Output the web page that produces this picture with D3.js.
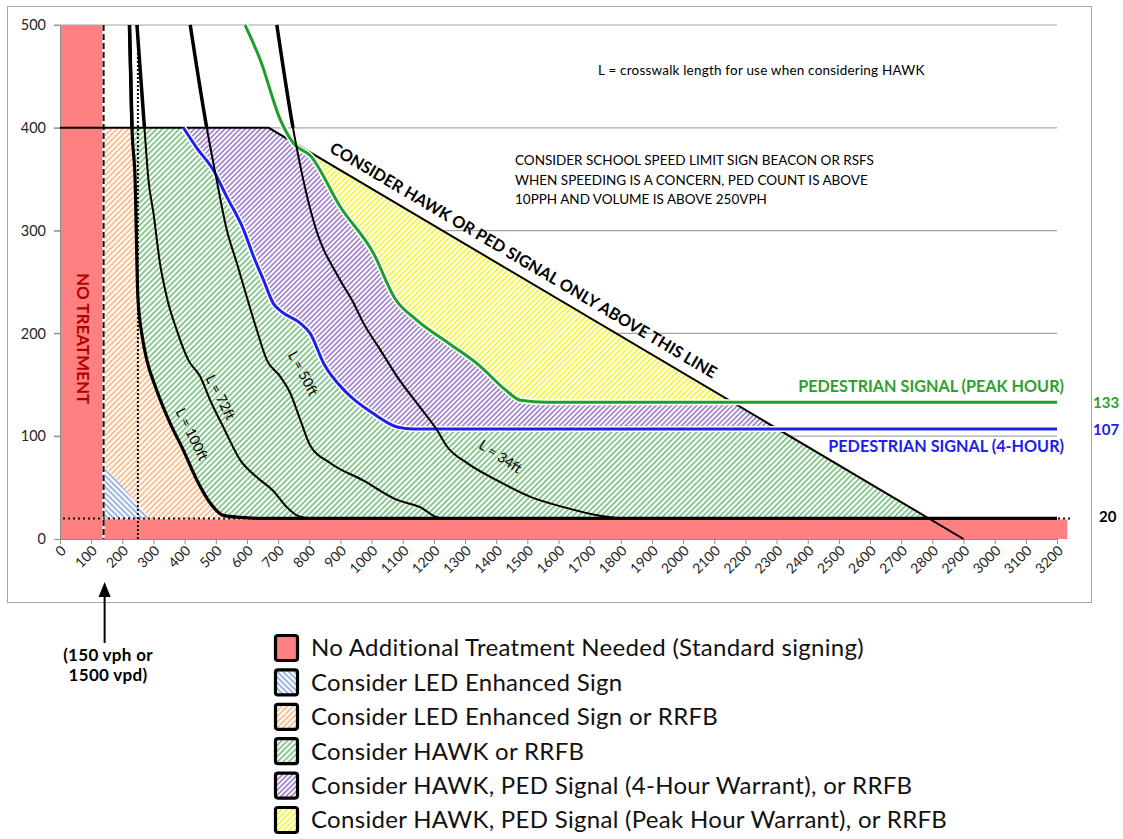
<!DOCTYPE html>
<html>
<head>
<meta charset="utf-8">
<script src="https://cdn.jsdelivr.net/npm/d3@7"></script>
<style>
  body { margin: 0; background: #fff; }
  text { font-family: Lato, "Open Sans", sans-serif; }
</style>
</head>
<body>
<script>
// ---- data (x = vehicles/hour, y = pedestrians/hour) ----
var xTicks = [0,100,200,300,400,500,600,700,800,900,1000,1100,1200,1300,1400,1500,1600,
  1700,1800,1900,2000,2100,2200,2300,2400,2500,2600,2700,2800,2900,3000,3100,3200];
var yTicks = [0,100,200,300,400,500];

var noTreatX = 140;      // dashed line "150 vph or 1500 vpd"
var ledX = 250;          // dotted line
var floorY = 20;         // minimum ped count
var peakValue = 133;
var fourHourValue = 107;
var redBandEnd = 3230;

// crosswalk-length curves
var curveL100 = [[223,500],[231,400],[241,350],[250,235],[265,195],[278,175],[310,145],[353,113],
  [395,87],[440,57],[482,35],[524,23],[580,21],[650,20],[3200,20]];
var curveL72 = [[247,500],[271,400],[284,349],[300,317],[321,268],[343,235],[375,203],[412,174],
  [450,158],[482,135],[524,109],[578,77],[632,60],[684,47],[728,31],[760,23],[803,20]];
var curveL50 = [[418,500],[471,400],[503,349],[535,301],[568,268],[600,235],[632,203],[664,174],
  [707,158],[739,142],[771,116],[803,91],[867,74],[973,57],[1082,38],[1156,31],[1211,21],[1237,20]];
var curveL34 = [[696,500],[749,398],[813,310],[899,252],[938,232],[974,210],[1028,184],[1082,158],
  [1156,128],[1210,106],[1242,90],[1306,74],[1403,57],[1510,41],[1617,31],[1724,23],[1799,20]];

// pedestrian signal warrant curves
var ped4Hour = [[396,400],[440,380],[492,359],[535,333],[589,301],[621,275],[653,252],[685,229],
  [712,221],[771,210],[803,200],[846,171],[921,142],[1006,122],[1082,109],[1135,107],[3200,107]];
var pedPeak = [[594,500],[643,466],[707,408],[749,385],[803,373],[900,323],[1006,278],[1075,234],
  [1145,213],[1250,190],[1349,168],[1430,145],[1478,135],[1563,133],[3200,133]];

// "consider HAWK or PED signal only above this line"
var hawkLimit = [[0,400],[670,400],[2900,0]];
var ledTriangle = [[noTreatX,72],[noTreatX,floorY],[290,floorY]];

var curveLabels = [
  {text: "L = 100ft", x: 398, y: 98, angle: 64},
  {text: "L = 72ft", x: 490, y: 134, angle: 63},
  {text: "L = 50ft", x: 755, y: 157, angle: 62},
  {text: "L = 34ft", x: 1398, y: 73, angle: 33}
];

var legendLabels = [
  "No Additional Treatment Needed (Standard signing)",
  "Consider LED Enhanced Sign",
  "Consider LED Enhanced Sign or RRFB",
  "Consider HAWK or RRFB",
  "Consider HAWK, PED Signal (4-Hour Warrant), or RRFB",
  "Consider HAWK, PED Signal (Peak Hour Warrant), or RRFB"
];

var w = 1123, h = 839;
var red = "#ff8080";
var green = "#1f9e2a";
var blue = "#2020ee";

var svg = d3.select("body").append("svg").attr("width", w).attr("height", h);
var defs = svg.append("defs");

var x = d3.scaleLinear().domain([0, 3200]).range([60, 1057]);
var y = d3.scaleLinear().domain([0, 500]).range([539, 25]);

// hatch patterns
function hatch(id, color, angle, gap, lw) {
  var p = defs.append("pattern")
    .attr("id", id)
    .attr("patternUnits", "userSpaceOnUse")
    .attr("width", gap).attr("height", gap)
    .attr("patternTransform", "rotate(" + angle + ")");
  p.append("rect").attr("width", gap).attr("height", gap).attr("fill", "#fff");
  p.append("line").attr("x1", gap / 2).attr("x2", gap / 2).attr("y1", 0).attr("y2", gap)
    .attr("stroke", color).attr("stroke-width", lw);
}
hatch("h-blue", "#5b86c8", -45, 4, 1.2);
hatch("h-orange", "#f5964a", 45, 4, 1.2);
hatch("h-green", "#3fa34a", 45, 4, 1.2);
hatch("h-purple", "#7a4cb8", 45, 3.6, 1.2);
hatch("h-yellow", "#f2f200", 45, 4, 1.4);

// chart border
svg.append("rect")
  .attr("x", 7.5).attr("y", 6.5).attr("width", 1084).attr("height", 596)
  .attr("fill", "#fff").attr("stroke", "#a6a6a6");

// gridlines
svg.selectAll("line.grid")
  .data(yTicks.filter(function (d) { return d > 0; }))
  .enter().append("line")
  .attr("class", "grid")
  .attr("x1", x(0) - 6).attr("x2", x(3200))
  .attr("y1", function (d) { return y(d); })
  .attr("y2", function (d) { return y(d); })
  .attr("stroke", "#a6a6a6").attr("stroke-width", 1.2);

// clip: below the hawk limit line, right of the no treatment band
var clipPts = [[noTreatX, 0], [noTreatX, 400]].concat(hawkLimit.slice(1));
defs.append("clipPath").attr("id", "ceiling")
  .append("path")
  .attr("d", "M" + clipPts.map(function (d) { return x(d[0]) + "," + y(d[1]); }).join("L") + "Z");
defs.append("clipPath").attr("id", "above400")
  .append("rect").attr("x", 0).attr("y", 0).attr("width", w).attr("height", y(400));

var above = d3.area()
  .x(function (d) { return x(d[0]); })
  .y0(function (d) { return y(d[1]); })
  .y1(y(520))
  .curve(d3.curveMonotoneX);

var zones = svg.append("g").attr("clip-path", "url(#ceiling)");
zones.append("rect")
  .attr("x", x(noTreatX)).attr("y", y(400))
  .attr("width", x(3200) - x(noTreatX)).attr("height", y(0) - y(400))
  .attr("fill", "url(#h-orange)");
zones.append("path").datum(curveL100).attr("d", above).attr("fill", "url(#h-green)");
zones.append("path").datum(ped4Hour).attr("d", above).attr("fill", "url(#h-purple)");
zones.append("path").datum(pedPeak).attr("d", above).attr("fill", "url(#h-yellow)");

svg.append("path")
  .datum(ledTriangle)
  .attr("d", d3.line().x(function (d) { return x(d[0]); }).y(function (d) { return y(d[1]); }))
  .attr("fill", "url(#h-blue)");

// red "no additional treatment" bands
svg.append("rect")
  .attr("x", x(0) + 1).attr("y", y(500))
  .attr("width", x(noTreatX) - x(0) - 2).attr("height", y(0) - y(500))
  .attr("fill", red);
svg.append("rect")
  .attr("x", x(0) + 1).attr("y", y(floorY) + 1)
  .attr("width", x(redBandEnd) - x(0)).attr("height", y(0) - y(floorY) - 1)
  .attr("fill", red);

// axes
var xAxis = svg.append("g")
  .attr("transform", "translate(0," + y(0) + ")")
  .call(d3.axisBottom(x).tickValues(xTicks).tickFormat(d3.format("d")).tickSize(5).tickSizeOuter(0));
xAxis.select(".domain").attr("stroke", "#8c8c8c");
xAxis.selectAll(".tick line").attr("stroke", "#8c8c8c");
xAxis.selectAll(".tick text")
  .attr("y", 0).attr("dy", "0.35em")
  .attr("transform", "translate(3,9) rotate(-45)")
  .attr("text-anchor", "end")
  .attr("fill", "#262626")
  .style("font-size", "14px");

var yAxis = svg.append("g")
  .attr("transform", "translate(" + x(0) + ",0)")
  .call(d3.axisLeft(y).tickValues(yTicks).tickSize(6).tickSizeOuter(0));
yAxis.select(".domain").attr("stroke", "#8c8c8c");
yAxis.selectAll(".tick line").attr("stroke", "#8c8c8c");
yAxis.selectAll(".tick text")
  .attr("x", -14)
  .attr("fill", "#262626")
  .style("font-size", "14.5px");

// reference lines
svg.append("line")
  .attr("x1", x(noTreatX)).attr("x2", x(noTreatX)).attr("y1", y(500)).attr("y2", y(0))
  .attr("stroke", "#fff").attr("stroke-width", 2);
svg.append("line")
  .attr("x1", x(noTreatX)).attr("x2", x(noTreatX)).attr("y1", y(500)).attr("y2", y(0))
  .attr("stroke", "#111").attr("stroke-width", 2).attr("stroke-dasharray", "6,3");
svg.append("line")
  .attr("x1", x(ledX)).attr("x2", x(ledX)).attr("y1", y(500)).attr("y2", y(0))
  .attr("stroke", "#111").attr("stroke-width", 2).attr("stroke-dasharray", "2,2");
svg.append("line")
  .attr("x1", x(0) + 3).attr("x2", x(redBandEnd) + 4).attr("y1", y(floorY)).attr("y2", y(floorY))
  .attr("stroke", "#111").attr("stroke-width", 2).attr("stroke-dasharray", "2,3");

var line = d3.line()
  .x(function (d) { return x(d[0]); })
  .y(function (d) { return y(d[1]); })
  .curve(d3.curveMonotoneX);

// hawk limit line
svg.append("path").datum(hawkLimit)
  .attr("d", d3.line().x(function (d) { return x(d[0]); }).y(function (d) { return y(d[1]); }))
  .attr("fill", "none").attr("stroke", "#000").attr("stroke-width", 2);

// ped signal warrant lines with white halo
[[ped4Hour, blue], [pedPeak, green]].forEach(function (s) {
  svg.append("path").datum(s[0]).attr("d", line)
    .attr("fill", "none").attr("stroke", "#fff").attr("stroke-width", 6);
  svg.append("path").datum(s[0]).attr("d", line)
    .attr("fill", "none").attr("stroke", s[1]).attr("stroke-width", 3);
});

// crosswalk length curves: thick above 400, thin below (L = 100ft stays thick)
[curveL100, curveL72, curveL50, curveL34].forEach(function (c, i) {
  svg.append("path").datum(c).attr("d", line)
    .attr("fill", "none").attr("stroke", "#000")
    .attr("stroke-width", i == 0 ? 3.2 : 2);
  svg.append("path").datum(c).attr("d", line)
    .attr("clip-path", "url(#above400)")
    .attr("fill", "none").attr("stroke", "#000").attr("stroke-width", 3.5);
});

svg.selectAll("text.clabel")
  .data(curveLabels)
  .enter().append("text")
  .attr("class", "clabel")
  .attr("transform", function (d) {
    return "translate(" + x(d.x) + "," + y(d.y) + ") rotate(" + d.angle + ")";
  })
  .attr("text-anchor", "middle")
  .attr("dy", -4)
  .style("font-size", "14px")
  .text(function (d) { return d.text; });

// hawk limit annotation along the diagonal
var a = Math.atan2(y(hawkLimit[2][1]) - y(hawkLimit[1][1]), x(hawkLimit[2][0]) - x(hawkLimit[1][0])) * 180 / Math.PI;
var tx = 1462;
var ty = 400 - (tx - hawkLimit[1][0]) / (hawkLimit[2][0] - hawkLimit[1][0]) * 400;
svg.append("text")
  .attr("transform", "translate(" + x(tx) + "," + y(ty) + ") rotate(" + a + ")")
  .attr("text-anchor", "middle")
  .attr("dy", -10)
  .style("font-size", "16.3px").style("font-weight", "bold")
  .text("CONSIDER HAWK OR PED SIGNAL ONLY ABOVE THIS LINE");

// no treatment
svg.append("text")
  .attr("transform", "translate(" + (x(noTreatX / 2) + 1) + "," + y(195) + ") rotate(90)")
  .attr("text-anchor", "middle").attr("dy", "0.35em")
  .attr("fill", "#b00000")
  .style("font-size", "17px").style("font-weight", "bold")
  .text("NO TREATMENT");

// notes
svg.append("text")
  .attr("x", 598).attr("y", 75)
  .style("font-size", "13.5px").style("letter-spacing", "0.2px")
  .text("L = crosswalk length for use when considering HAWK");

svg.append("text")
  .attr("x", 515).attr("y", 165)
  .style("font-size", "13.5px")
  .selectAll("tspan")
  .data(["CONSIDER SCHOOL SPEED LIMIT SIGN BEACON OR RSFS",
         "WHEN SPEEDING IS A CONCERN, PED COUNT IS ABOVE",
         "10PPH AND VOLUME IS ABOVE 250VPH"])
  .enter().append("tspan")
  .attr("x", 515)
  .attr("dy", function (d, i) { return i == 0 ? 0 : 19.5; })
  .text(function (d) { return d; });

// ped signal labels and values on the right
svg.append("text")
  .attr("x", 1064).attr("y", y(peakValue) - 10)
  .attr("text-anchor", "end").attr("fill", "#2ea02e")
  .style("font-size", "16.2px").style("font-weight", "bold")
  .text("PEDESTRIAN SIGNAL (PEAK HOUR)");
svg.append("text")
  .attr("x", 1064).attr("y", y(fourHourValue) + 23)
  .attr("text-anchor", "end").attr("fill", blue)
  .style("font-size", "16.2px").style("font-weight", "bold")
  .text("PEDESTRIAN SIGNAL (4-HOUR)");

svg.selectAll("text.endval")
  .data([[peakValue, "#2ea02e", 6], [fourHourValue, blue, 6], [floorY, "#000", 4]])
  .enter().append("text")
  .attr("class", "endval")
  .attr("x", function (d) { return d[1] == "#000" ? 1099 : 1093; })
  .attr("y", function (d) { return y(d[0]) + d[2]; })
  .attr("fill", function (d) { return d[1]; })
  .style("font-size", "15px").style("font-weight", "bold")
  .text(function (d) { return d[0]; });

// arrow pointing at the 150 vph line
var ax = x(noTreatX) + 1;
svg.append("line")
  .attr("x1", ax).attr("x2", ax).attr("y1", 643).attr("y2", 592)
  .attr("stroke", "#000").attr("stroke-width", 2);
svg.append("path")
  .attr("d", "M" + (ax - 6) + ",597L" + ax + ",582L" + (ax + 6) + ",597Z")
  .attr("fill", "#000");
svg.append("text")
  .attr("x", 108).attr("y", 661)
  .attr("text-anchor", "middle")
  .style("font-size", "17px").style("font-weight", "bold").style("letter-spacing", "0.3px")
  .selectAll("tspan")
  .data(["(150 vph or", "1500 vpd)"])
  .enter().append("tspan")
  .attr("x", 108)
  .attr("dy", function (d, i) { return i == 0 ? 0 : 20; })
  .text(function (d) { return d; });

// legend
var fills = [red, "url(#h-blue)", "url(#h-orange)", "url(#h-green)", "url(#h-purple)", "url(#h-yellow)"];
var legend = svg.selectAll("g.legend")
  .data(legendLabels)
  .enter().append("g")
  .attr("class", "legend")
  .attr("transform", function (d, i) { return "translate(274," + (648 + i * 34.4) + ")"; });
legend.append("rect")
  .attr("x", 1.5).attr("y", -12.5).attr("width", 22).attr("height", 25).attr("rx", 2.5)
  .attr("fill", function (d, i) { return fills[i]; })
  .attr("stroke", "#000").attr("stroke-width", 3.2);
legend.append("text")
  .attr("x", 37).attr("dy", "0.35em")
  .attr("fill", "#111")
  .style("font-size", "24px").style("letter-spacing", "0.3px")
  .text(function (d) { return d; });
</script>
</body>
</html>
